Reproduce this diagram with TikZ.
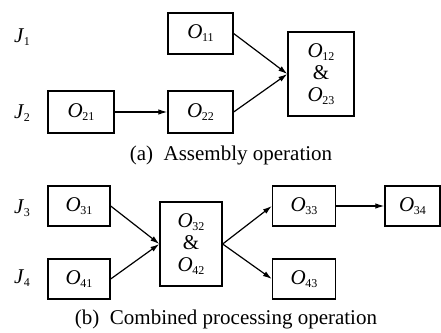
\documentclass[tikz,border=0pt]{standalone}
\usepackage{fontspec}
\setmainfont{Liberation Serif}
\usetikzlibrary{arrows.meta}
\newcommand\Osb[2]{\textit{#1}\kern-0.5pt\raisebox{-3pt}{\fontsize{12}{12}\selectfont #2}}
\tikzset{
  box/.style={draw, line width=1.3pt, rectangle, inner sep=0pt, align=center,
    font=\fontsize{21}{22}\selectfont},
  lbl/.style={font=\fontsize{21}{22}\selectfont, inner sep=0pt, anchor=base west},
  captxt/.style={font=\fontsize{21}{22}\selectfont, inner sep=0pt},
  arr/.style={-{Latex[length=9pt,width=5.5pt]}, line width=1.2pt}
}
\begin{document}
\begin{tikzpicture}[x=1pt,y=-1pt]
\useasboundingbox (0,0) rectangle (441,332);
% top panel
\node[lbl] (J1) at (14,42) {\Osb{J}{1}};
\node[lbl] (J2) at (14,118) {\Osb{J}{2}};
\node[box, minimum width=65pt, minimum height=41pt] (O11) at (200.5,33.5) {\Osb{O}{11}};
\node[box, minimum width=66pt, minimum height=42pt] (O21) at (81,112) {\Osb{O}{21}};
\node[box, minimum width=65pt, minimum height=42pt] (O22) at (200.5,112) {\Osb{O}{22}};
\node[box, minimum width=66pt, minimum height=84pt] (B1) at (321,74) {\Osb{O}{12}\\\&\\\Osb{O}{23}};
\draw[arr] (O11.east) -- (B1.west);
\draw[arr] (O22.east) -- (B1.west);
\draw[arr] (O21.east) -- (O22.west);
\node[captxt] (capa) at (231,155) {(a)\ \ Assembly operation};
% bottom panel
\node[lbl] (J3) at (14,213) {\Osb{J}{3}};
\node[lbl] (J4) at (14,283) {\Osb{J}{4}};
\node[box, minimum width=62pt, minimum height=40pt] (O31) at (79,206) {\Osb{O}{31}};
\node[box, minimum width=62pt, minimum height=40pt] (O41) at (79,279) {\Osb{O}{41}};
\node[box, minimum width=62pt, minimum height=84pt] (C) at (191,244) {\Osb{O}{32}\\\&\\\Osb{O}{42}};
\node[box, minimum width=63pt, minimum height=40pt] (O33) at (304,206) {\Osb{O}{33}};
\node[box, minimum width=63pt, minimum height=40pt] (O43) at (304,279) {\Osb{O}{43}};
\node[box, minimum width=55pt, minimum height=40pt] (O34) at (412.5,206) {\Osb{O}{34}};
\draw[arr] (O31.east) -- (C.west);
\draw[arr] (O41.east) -- (C.west);
\draw[arr] (C.east) -- (O33.west);
\draw[arr] (C.east) -- (O43.west);
\draw[arr] (O33.east) -- (O34.west);
\node[captxt] (capb) at (226,319) {(b)\ \ Combined processing operation};
\end{tikzpicture}
\end{document}
